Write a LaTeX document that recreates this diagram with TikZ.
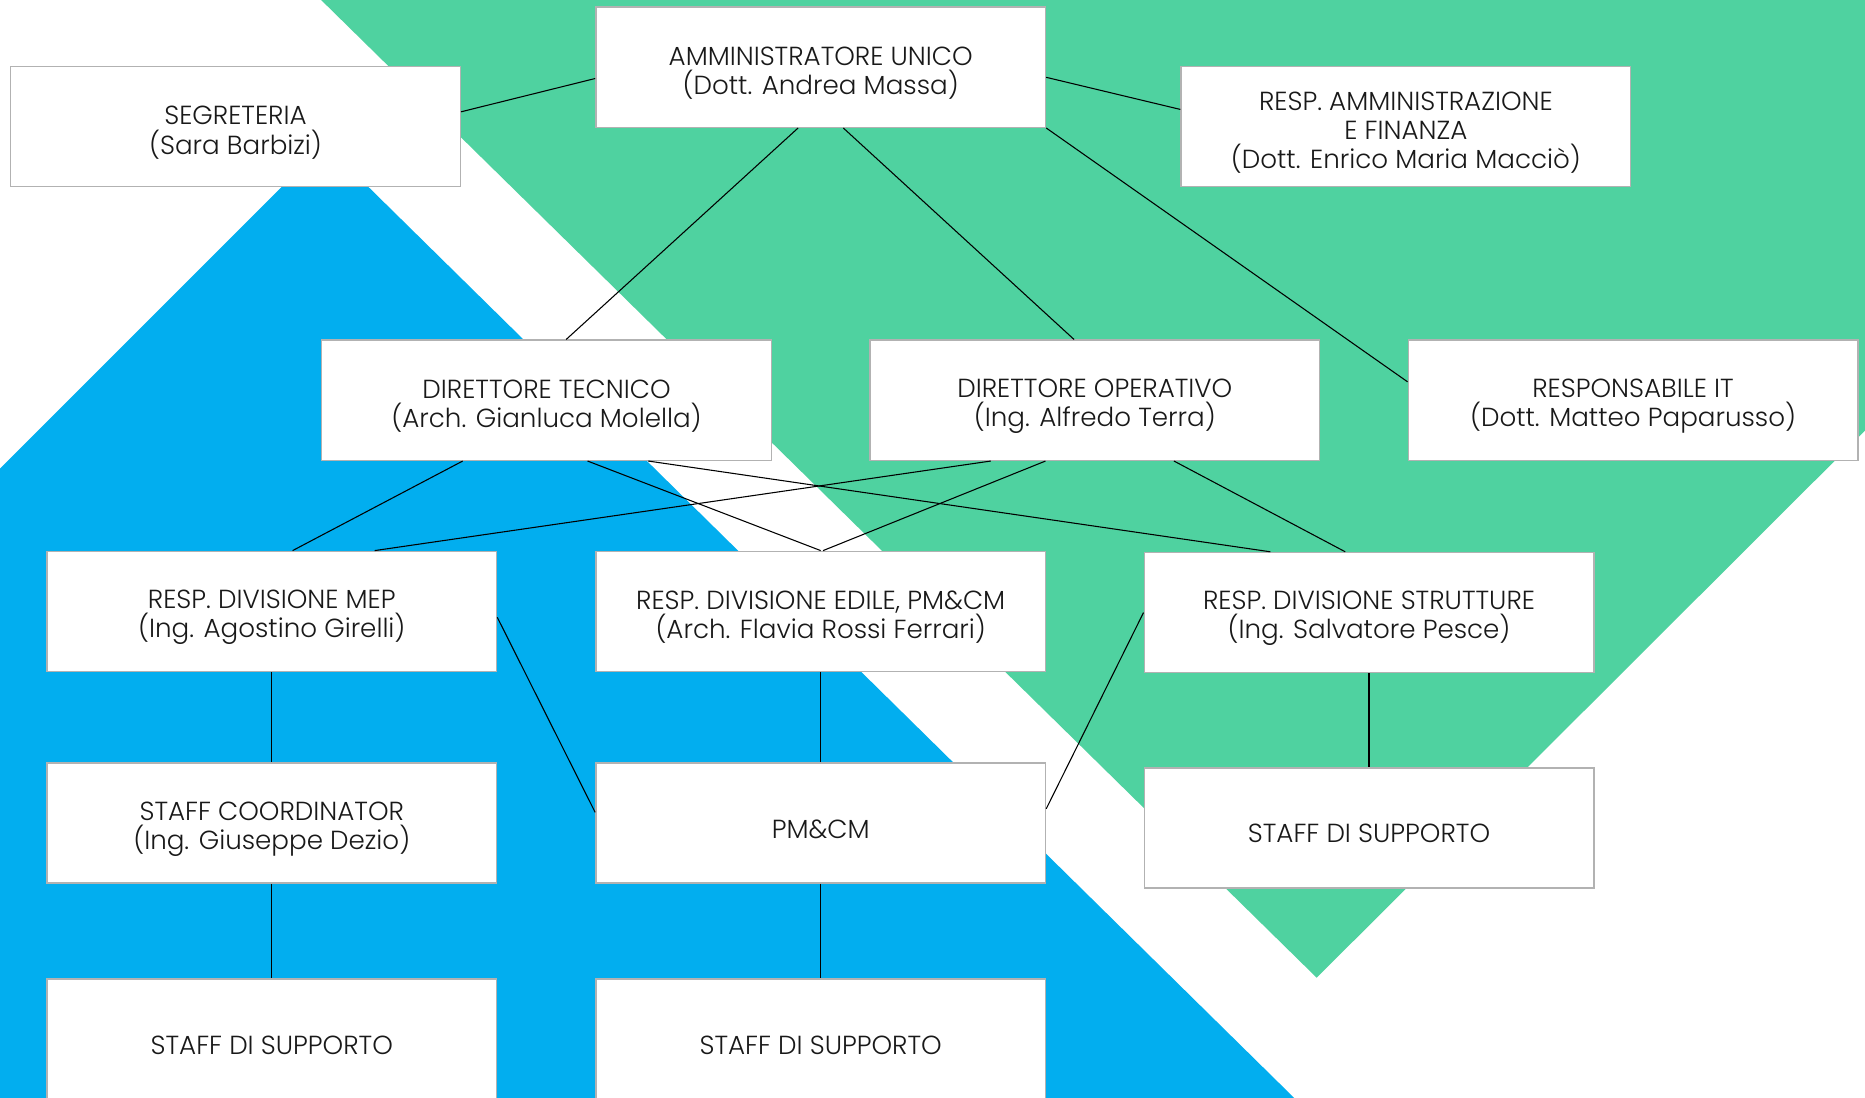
\documentclass[tikz,border=0pt]{standalone}
\usepackage{fontspec}
\setmainfont{Poppins}[UprightFont=* Light]
\usetikzlibrary{calc}
\definecolor{bggreen}{RGB}{79,210,160}
\definecolor{bgblue}{RGB}{2,174,239}
\definecolor{boxline}{RGB}{178,178,178}
\definecolor{txt}{RGB}{25,25,25}
\tikzset{
  box/.style={draw=boxline, line width=0.6pt, fill=white, minimum width=189pt, minimum height=50.5pt,
    inner sep=0pt, text=txt, font=\fontsize{11}{12.3}\selectfont},
  link/.style={draw=black, line width=0.45pt}
}
\newcommand{\lowtxt}[1]{\raisebox{0pt}[\dimexpr\height+5pt\relax][\depth]{\parbox{180pt}{\centering\lineskiplimit=-\maxdimen #1}}}
\begin{document}
\begin{tikzpicture}[x=0.5pt,y=-0.5pt]
\useasboundingbox (0,0) rectangle (1568,923);
\clip (0,0) rectangle (1568,923);
\fill[white] (0,0) rectangle (1568,923);
% background shapes
\fill[bggreen] (270,0) -- (1568,0) -- (1568,362) -- (1107,822) -- cycle;
\fill[bgblue] (273,121) -- (0,394) -- (0,923) -- (1088,923) -- cycle;
% boxes
\node[box] (seg) at (198,106.5) {\lowtxt{SEGRETERIA\\(Sara Barbizi)}};
\node[box] (amm) at (690,56.5) {\lowtxt{AMMINISTRATORE UNICO\\(Dott. Andrea Massa)}};
\node[box] (raf) at (1182,106.5) {\lowtxt{RESP. AMMINISTRAZIONE\\E FINANZA\\(Dott. Enrico Maria Macciò)}};
\node[box] (dt) at (459.5,336.5) {\lowtxt{DIRETTORE TECNICO\\(Arch. Gianluca Molella)}};
\node[box] (do) at (920.5,336.5) {\lowtxt{DIRETTORE OPERATIVO\\(Ing. Alfredo Terra)}};
\node[box] (it) at (1373,336.5) {\lowtxt{RESPONSABILE IT\\(Dott. Matteo Paparusso)}};
\node[box] (mep) at (228.5,514) {\lowtxt{RESP. DIVISIONE MEP\\(Ing. Agostino Girelli)}};
\node[box] (edi) at (690,514) {\lowtxt{RESP. DIVISIONE EDILE, PM\&CM\\(Arch. Flavia Rossi Ferrari)}};
\node[box] (str) at (1151,515) {\lowtxt{RESP. DIVISIONE STRUTTURE\\(Ing. Salvatore Pesce)}};
\node[box] (sc) at (228.5,692) {\lowtxt{STAFF COORDINATOR\\(Ing. Giuseppe Dezio)}};
\node[box] (pm) at (690,692) {\lowtxt{PM\&CM}};
\node[box] (ss) at (1151,696) {\lowtxt{STAFF DI SUPPORTO}};
\node[box] (smep) at (228.5,873.5) {\lowtxt{STAFF DI SUPPORTO}};
\node[box] (spm) at (690,873.5) {\lowtxt{STAFF DI SUPPORTO}};
% connectors
\draw[link] ($(seg.east)+(0,-12.5)$) -- ($(amm.west)+(0,9.5)$);
\draw[link] ($(amm.east)+(0,8.5)$) -- ($(raf.west)+(0,-14.5)$);
\draw[link] ($(amm.south)+(-19,0)$) -- ($(dt.north)+(16.5,0)$);
\draw[link] ($(amm.south)+(19,0)$) -- ($(do.north)+(-17.5,0)$);
\draw[link] (amm.south east) -- ($(it.west)+(0,-15.5)$);
\draw[link] ($(dt.south)+(-70.5,0)$) -- ($(mep.north)+(17.5,0)$);
\draw[link] ($(dt.south)+(34.5,0)$) -- (edi.north);
\draw[link] ($(dt.south)+(85.5,0)$) -- ($(str.north)+(-83,0)$);
\draw[link] ($(do.south)+(-87.5,0)$) -- ($(mep.north)+(86.5,0)$);
\draw[link] ($(do.south)+(-41.5,0)$) -- ($(edi.north)+(2,0)$);
\draw[link] ($(do.south)+(66.5,0)$) -- ($(str.north)+(-20,0)$);
\draw[link] (mep.south) -- (sc.north);
\draw[link] (sc.south) -- (smep.north);
\draw[link] (edi.south) -- (pm.north);
\draw[link] (pm.south) -- (spm.north);
\draw[link] (str.south) -- (ss.north);
\draw[link] ($(mep.east)+(0,5)$) -- ($(pm.west)+(0,-9)$);
\draw[link] (str.west) -- ($(pm.east)+(0,-12)$);
\end{tikzpicture}
\end{document}
